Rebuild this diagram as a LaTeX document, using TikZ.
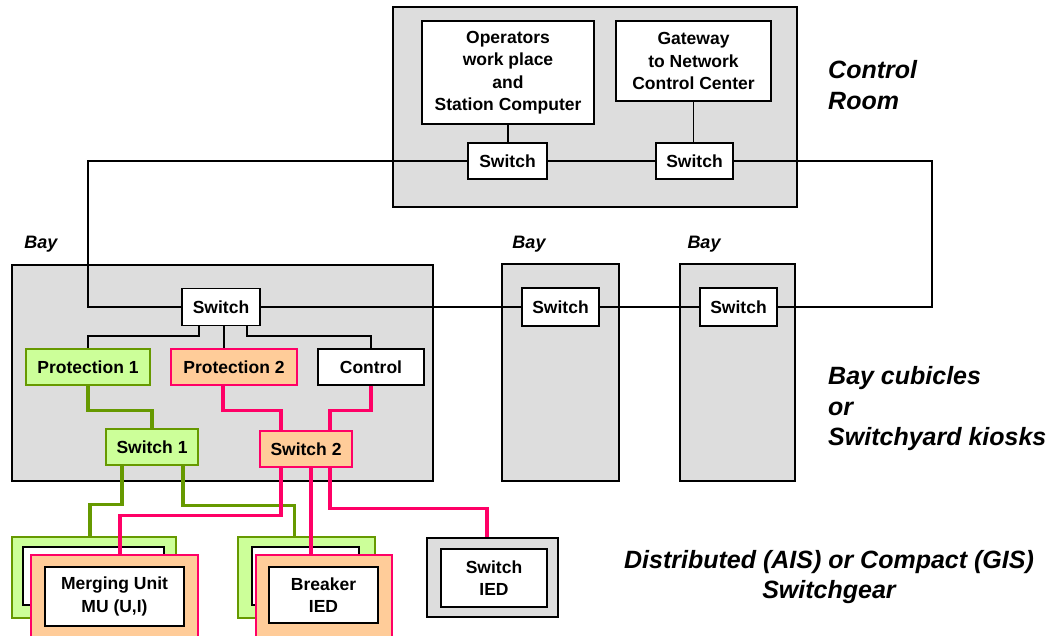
\documentclass[tikz,border=0pt]{standalone}
\usepackage{fontspec}
\setmainfont{Liberation Sans}
\usepackage{tikz}
\usetikzlibrary{calc}
\definecolor{areagray}{HTML}{DDDDDD}
\definecolor{lgreen}{HTML}{669900}
\definecolor{pgreen}{HTML}{CCFF99}
\definecolor{lpink}{HTML}{FF0066}
\definecolor{ppeach}{HTML}{FFCC99}
\newcommand{\boxfont}{\fontsize{17.5}{22.5}\selectfont\bfseries}
\newcommand{\lblfont}{\fontsize{25}{30.5}\selectfont\bfseries\itshape}
\tikzset{
  area/.style={draw, line width=1.3pt, fill=areagray, inner sep=0pt},
  box/.style={draw, line width=1.3pt, fill=white, inner sep=0pt, align=center, font=\boxfont},
  gbox/.style={box, draw=lgreen, fill=pgreen},
  pbox/.style={box, draw=lpink, fill=ppeach},
  wire/.style={line width=1.4pt},
  gwire/.style={line width=3.5pt, draw=lgreen},
  pwire/.style={line width=3.5pt, draw=lpink},
  baylbl/.style={font=\fontsize{18}{20}\selectfont\bfseries\itshape},
  sidelbl/.style={font=\lblfont, align=left, anchor=west, inner sep=0pt}
}
\begin{document}
\begin{tikzpicture}[x=1pt,y=-1pt]
	\useasboundingbox (0,0) rectangle (1051,636);
	% control room
	\node[area, minimum width=404, minimum height=200] (cr) at (595,107) {};
	\node[box, minimum width=172, minimum height=103] (ops) at (508,72.5) {Operators\\work place\\and\\Station Computer};
	\node[box, minimum width=155, minimum height=80] (gw) at (693.5,61) {Gateway\\to Network\\Control Center};
	\node[box, minimum width=79, minimum height=36] (cs1) at (507.5,161) {Switch};
	\node[box, minimum width=77, minimum height=36] (cs2) at (694.5,161) {Switch};
	% bays
	\node[area, minimum width=421, minimum height=216] (bay1) at (222.5,373) {};
	\node[area, minimum width=117, minimum height=217] (bay2) at (560.5,372.5) {};
	\node[area, minimum width=115, minimum height=217] (bay3) at (737.5,372.5) {};
	\node[box, minimum width=78, minimum height=37] (bsw) at (221,307) {Switch};
	\node[box, minimum width=77, minimum height=38] (b2sw) at (560.5,307) {Switch};
	\node[box, minimum width=77, minimum height=38] (b3sw) at (738.5,307) {Switch};
	\node[gbox, minimum width=124, minimum height=36] (prot1) at (88,367) {Protection 1};
	\node[pbox, minimum width=126, minimum height=36] (prot2) at (234,367) {Protection 2};
	\node[box, minimum width=106, minimum height=36] (ctrl) at (371,367) {Control};
	\node[gbox, minimum width=92, minimum height=36] (sw1) at (152,447) {Switch 1};
	\node[pbox, minimum width=92, minimum height=36] (sw2) at (306,449) {Switch 2};
	% switchgear
	\node[gbox, minimum width=164, minimum height=81] (mug) at (94,577.5) {};
	\node[box, minimum width=141, minimum height=58] (mugi) at (93.5,576) {};
	\node[pbox, minimum width=167, minimum height=95] (mup) at (114.5,602.5) {};
	\node[box, minimum width=139, minimum height=59] (mu) at (114.5,596.5) {Merging Unit\\MU (U,I)};
	\node[gbox, minimum width=137, minimum height=81] (brg) at (306.5,577.5) {};
	\node[box, minimum width=107, minimum height=58] (brgi) at (305.5,576) {};
	\node[pbox, minimum width=136, minimum height=95] (brp) at (324,602.5) {};
	\node[box, minimum width=109, minimum height=56] (brk) at (323.5,595) {Breaker\\IED};
	\node[area, minimum width=131, minimum height=79] (sig) at (492.5,577.5) {};
	\node[box, minimum width=106, minimum height=58] (sied) at (494,578) {Switch\\IED};
	% ring
	\coordinate (ringL) at (88,307);
	\coordinate (ringR) at (932,307);
	\draw[wire] (ops.south) -- (ops.south |- cs1.north);
	\draw[wire] (gw.south) -- (gw.south |- cs2.north);
	\draw[wire] (cs1.east) -- (cs2.west);
	\draw[wire] (cs1.west) -| (ringL) -- (bsw.west);
	\draw[wire] (cs2.east) -| (ringR) -- (b3sw.east);
	\draw[wire] (bsw.east) -- (b2sw.west);
	\draw[wire] (b2sw.east) -- (b3sw.west);
	% bay switch taps
	\draw[wire] ($(bsw.south)+(-22,0)$) -- ++(0,10) -| (prot1.north);
	\draw[wire] ($(bsw.south)+(3,0)$) coordinate (t2) -- (t2 |- prot2.north);
	\draw[wire] ($(bsw.south)+(26,0)$) -- ++(0,10) -| (ctrl.north);
	% process bus
	\draw[gwire] (prot1.south) -- ++(0,25) -| (sw1.north);
	\draw[gwire] ($(sw1.south)+(-30,0)$) -- ++(0,39) -| ($(mug.north)+(-4,0)$);
	\draw[gwire] ($(sw1.south)+(31,0)$) -- ++(0,40) -| ($(brg.north)+(-12,0)$);
	\draw[pwire] ($(prot2.south)+(-11,0)$) -- ++(0,25) -| ($(sw2.north)+(-25,0)$);
	\draw[pwire] (ctrl.south) -- ++(0,25) -| ($(sw2.north)+(24,0)$);
	\draw[pwire] ($(sw2.south)+(-25,0)$) -- ++(0,48) -| ($(mup.north)+(5.5,0)$);
	\draw[pwire] ($(sw2.south)+(5,0)$) coordinate (t5) -- (t5 |- brp.north);
	\draw[pwire] ($(sw2.south)+(24,0)$) -- ++(0,41) -| ($(sig.north)+(-5.5,0)$);
	% labels
	\node[baylbl] (l1) at (41,244) {Bay};
	\node[baylbl] (l2) at (529,244) {Bay};
	\node[baylbl] (l3) at (704,244) {Bay};
	\node[sidelbl] (lcr) at (828,85) {Control\\Room};
	\node[sidelbl] (lbay) at (828,409) {Bay cubicles\\or\\Switchyard kiosks};
	\node[font=\lblfont, align=center] (lsg) at (829,577) {Distributed (AIS) or Compact (GIS)\\Switchgear};
\end{tikzpicture}
\end{document}
